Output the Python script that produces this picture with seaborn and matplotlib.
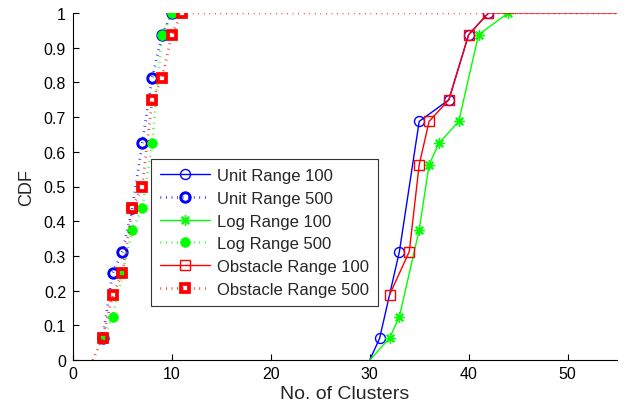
import matplotlib
matplotlib.use("Agg")
import matplotlib.pyplot as plt
from matplotlib.lines import Line2D
import numpy as np
import pandas as pd
import seaborn as sns

# ---------------- data ----------------
labels = ["Unit Range 100", "Unit Range 500", "Log Range 100",
          "Log Range 500", "Obstacle Range 100", "Obstacle Range 500"]

unit100_x = [31, 33, 35, 38, 40, 42]
unit100_y = [0.0625, 0.3125, 0.6875, 0.75, 0.9375, 1.0]

unit500_x = [3, 4, 5, 6, 7, 8, 9, 10]
unit500_y = [0.0625, 0.25, 0.3125, 0.4375, 0.625, 0.8125, 0.9375, 1.0]

log100_x = [32, 33, 35, 36, 37, 39, 41, 44]
log100_y = [0.0625, 0.125, 0.375, 0.5625, 0.625, 0.6875, 0.9375, 1.0]

log500_x = [3, 4, 5, 6, 7, 8, 9, 10]
log500_y = [0.0625, 0.125, 0.25, 0.375, 0.4375, 0.625, 0.9375, 1.0]

obs100_x = [32, 34, 35, 36, 38, 40, 42]
obs100_y = [0.1875, 0.3125, 0.5625, 0.6875, 0.75, 0.9375, 1.0]

obs500_x = [3, 4, 5, 6, 7, 8, 9, 10, 11]
obs500_y = [0.0625, 0.1875, 0.25, 0.4375, 0.5, 0.75, 0.8125, 0.9375, 1.0]

# CDF start (value 0, no marker) and whether the curve runs on at 1
line_start = [30, None, 30, None, None, 2]
runs_on = [False, False, False, False, True, True]

xticks = [0, 10, 20, 30, 40, 50]
yticks = [0, 0.1, 0.2, 0.3, 0.4, 0.5, 0.6, 0.7, 0.8, 0.9, 1]
ytick_labels = ["0", "0.1", "0.2", "0.3", "0.4", "0.5", "0.6", "0.7", "0.8", "0.9", "1"]
X_MAX = 55

# ---------------- styles ----------------
BLUE, GREEN, RED = "#0000ff", "#00ff00", "#ff0000"
DOT = (0, (0.25, 1.75))
styles = [
    dict(color=BLUE, linestyle="-", linewidth=1.0, marker="o", markersize=7.2,
         markerfacecolor="none", markeredgecolor=BLUE, markeredgewidth=1.0),
    dict(color=BLUE, linestyle=DOT, linewidth=2.0, marker="o", markersize=6.8,
         markerfacecolor="none", markeredgecolor=BLUE, markeredgewidth=2.1),
    dict(color=GREEN, linestyle="-", linewidth=1.0, marker=(8, 2, 0), markersize=7.5,
         markerfacecolor=GREEN, markeredgecolor=GREEN, markeredgewidth=1.0),
    dict(color=GREEN, linestyle=DOT, linewidth=2.0, marker="o", markersize=7.0,
         markerfacecolor=GREEN, markeredgecolor=GREEN, markeredgewidth=0.5),
    dict(color=RED, linestyle="-", linewidth=1.0, marker="s", markersize=6.6,
         markerfacecolor="none", markeredgecolor=RED, markeredgewidth=1.0),
    dict(color=RED, linestyle=DOT, linewidth=2.0, marker="s", markersize=5.8,
         markerfacecolor="none", markeredgecolor=RED, markeredgewidth=2.7),
]

sns.set_style("ticks")
plt.rcParams["font.family"] = ["Liberation Sans", "DejaVu Sans"]

fig = plt.figure(figsize=(6.38, 4.10), dpi=100)
ax = fig.add_axes([73 / 638, 1 - 361 / 410, (617 - 73) / 638, (361 - 14) / 410])

series = [(unit100_x, unit100_y), (unit500_x, unit500_y), (log100_x, log100_y),
          (log500_x, log500_y), (obs100_x, obs100_y), (obs500_x, obs500_y)]

handles = []
for (xs, ys), lab, st, s0, tail in zip(series, labels, styles, line_start, runs_on):
    px, py = list(xs), list(ys)
    first = 0
    if s0 is not None:
        px = [s0] + px
        py = [0.0] + py
        first = 1
    mark_idx = list(range(first, first + len(xs)))
    if tail:
        px = px + [X_MAX + 5]
        py = py + [py[-1]]
    df = pd.DataFrame({"x": px, "y": py})
    sns.lineplot(data=df, x="x", y="y", ax=ax, estimator=None, sort=False,
                 markevery=mark_idx, legend=False, **st)
    handles.append(Line2D([], [], label=lab, **st))

ax.set_xlim(0, X_MAX)
ax.set_ylim(0, 1)
ax.set_xticks(xticks)
ax.set_xticklabels([str(t) for t in xticks])
ax.set_yticks(yticks)
ax.set_yticklabels(ytick_labels)
ax.tick_params(direction="in", length=4, width=0.8, labelsize=11.5, colors="black")
ax.tick_params(axis="x", pad=4)
ax.tick_params(axis="y", pad=5)
for side in ("top", "right"):
    ax.spines[side].set_visible(False)
for side in ("left", "bottom"):
    ax.spines[side].set_color("black")
    ax.spines[side].set_linewidth(0.8)

ax.set_xlabel("No. of Clusters", fontsize=14, labelpad=3)
ax.set_ylabel("CDF", fontsize=13, labelpad=6)

leg = ax.legend(handles=handles, loc="upper left",
                bbox_to_anchor=((151 - 73) / 544, (361 - 160) / 347),
                fontsize=12, frameon=True, fancybox=False, handlelength=3.0,
                handletextpad=0.4, labelspacing=0.46, borderpad=0.55,
                borderaxespad=0.0)
leg.get_frame().set_edgecolor("black")
leg.get_frame().set_linewidth(0.8)

fig.savefig("out.png", dpi=100)
